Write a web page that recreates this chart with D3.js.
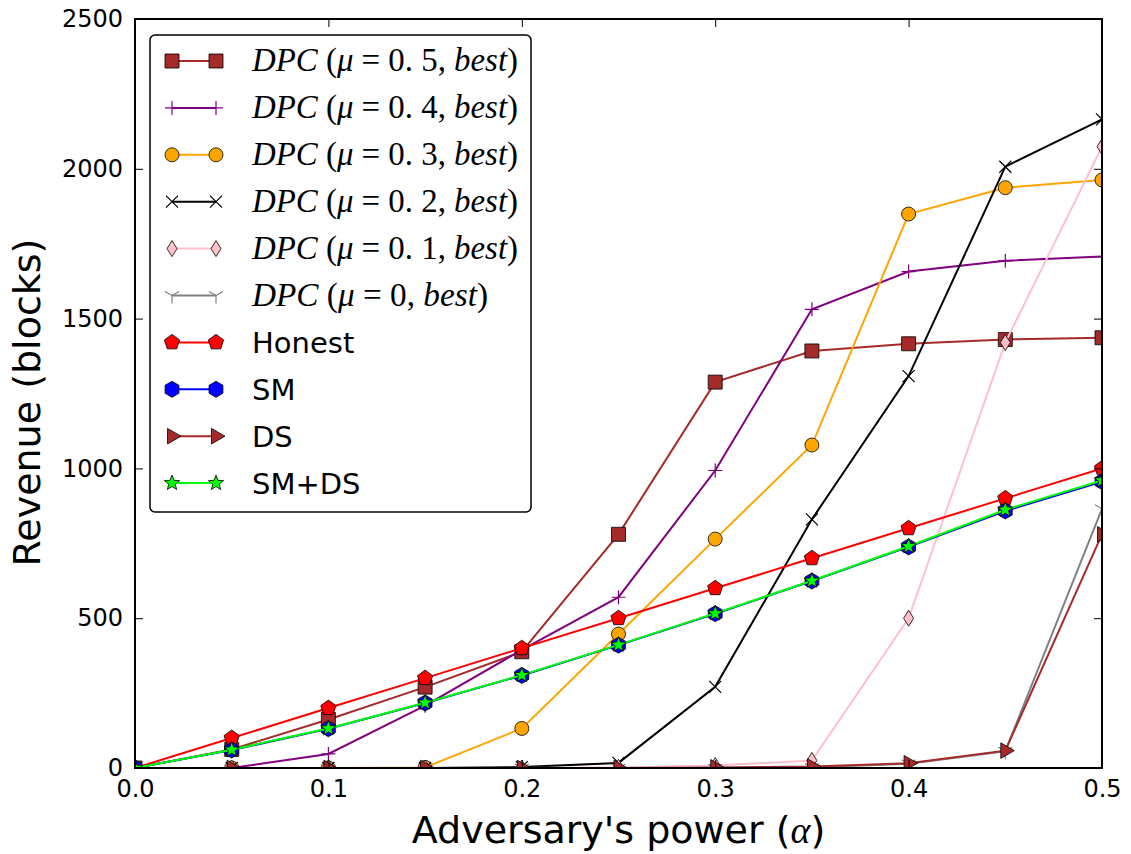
<!DOCTYPE html>
<html>
<head>
<meta charset="utf-8">
<script src="https://cdn.jsdelivr.net/npm/d3@7"></script>
<style>
  body { margin: 0; background: #fff; }
  svg { display: block; font-family: "DejaVu Sans", sans-serif; }
</style>
</head>
<body>
<svg id="chart"></svg>
<script>
// data
var alphas = [0, 0.05, 0.1, 0.15, 0.2, 0.25, 0.3, 0.35, 0.4, 0.45, 0.5];
var dpc05 = [0, 62, 162, 270, 388, 780, 1288, 1392, 1416, 1430, 1436];
var dpc04 = [0, 0, 47, 208, 394, 570, 993, 1531, 1657, 1693, 1707];
var dpc03 = [0, 0, 0, 2, 132, 447, 764, 1078, 1849, 1937, 1963];
var dpc02 = [0, 0, 0, 0, 3, 17, 271, 830, 1308, 2007, 2165];
var dpc01 = [0, 0, 0, 0, 0, 2, 8, 25, 500, 1420, 2074];
var dpc00 = [0, 0, 0, 0, 0, 0, 0, 2, 14, 56, 865];
var honest = [0, 100, 200, 300, 400, 500, 600, 700, 800, 900, 1000];
var sm = [0, 60, 131, 217, 309, 410, 515, 624, 738, 858, 956];
var ds = [0, 0, 0, 0, 0, 0, 2, 5, 16, 58, 780];
var smds = [0, 61, 132, 218, 310, 411, 516, 625, 740, 862, 960];

var xTicks = [0, 0.1, 0.2, 0.3, 0.4, 0.5];
var yTicks = [0, 500, 1000, 1500, 2000, 2500];

var muLabels = ["0.5", "0.4", "0.3", "0.2", "0.1", "0"];

var series = [
  {name: "dpc", mu: muLabels[0], values: dpc05, color: "#a52a2a", marker: "square"},
  {name: "dpc", mu: muLabels[1], values: dpc04, color: "#800080", marker: "plus"},
  {name: "dpc", mu: muLabels[2], values: dpc03, color: "#ffa500", marker: "circle"},
  {name: "dpc", mu: muLabels[3], values: dpc02, color: "#000000", marker: "x"},
  {name: "dpc", mu: muLabels[4], values: dpc01, color: "#ffc0cb", marker: "thindiamond"},
  {name: "dpc", mu: muLabels[5], values: dpc00, color: "#808080", marker: "tridown"},
  {name: "Honest", values: honest, color: "#ff0000", marker: "pentagon"},
  {name: "SM", values: sm, color: "#0000ff", marker: "hexagon"},
  {name: "DS", values: ds, color: "#a52a2a", marker: "triright"},
  {name: "SM+DS", values: smds, color: "#00ff00", marker: "star"}
];

var svgWidth = 1131, svgHeight = 854;
var plotLeft = 135, plotRight = 1102, plotTop = 19, plotBottom = 768;

var svg = d3.select("#chart").attr("width", svgWidth).attr("height", svgHeight);

var xScale = d3.scaleLinear().domain([0, 0.5]).range([plotLeft, plotRight]);
var yScale = d3.scaleLinear().domain([0, 2500]).range([plotBottom, plotTop]);

// marker shapes (relative to 0,0)
function poly(n, r, rot) {
  var pts = [];
  for (var i = 0; i < n; i++) {
    var a = rot + i * 2 * Math.PI / n;
    pts.push([r * Math.cos(a), r * Math.sin(a)]);
  }
  return "M" + pts.map(function (p) { return p[0].toFixed(2) + "," + p[1].toFixed(2); }).join("L") + "Z";
}
function starPath(ro, ri) {
  var pts = [];
  for (var i = 0; i < 10; i++) {
    var r = i % 2 === 0 ? ro : ri;
    var a = -Math.PI / 2 + i * Math.PI / 5;
    pts.push([r * Math.cos(a), r * Math.sin(a)]);
  }
  return "M" + pts.map(function (p) { return p[0].toFixed(2) + "," + p[1].toFixed(2); }).join("L") + "Z";
}
function markerPath(type) {
  switch (type) {
    case "square": return "M-7,-7H7V7H-7Z";
    case "plus": return "M-7,0H7M0,-7V7";
    case "circle": return "M7,0A7,7 0 1,1 -7,0A7,7 0 1,1 7,0Z";
    case "x": return "M-6,-6L6,6M-6,6L6,-6";
    case "thindiamond": return "M0,-8L5,0L0,8L-5,0Z";
    case "tridown": return "M0,0V8M0,0L-7,-4M0,0L7,-4";
    case "pentagon": return poly(5, 8, -Math.PI / 2);
    case "hexagon": return poly(6, 8, -Math.PI / 2);
    case "triright": return poly(3, 9, 0);
    case "star": return starPath(8, 3.4);
  }
}
function isLineMarker(type) {
  return type === "plus" || type === "x" || type === "tridown";
}

svg.append("defs").append("clipPath").attr("id", "plotclip")
  .append("rect").attr("x", plotLeft).attr("y", plotTop)
  .attr("width", plotRight - plotLeft).attr("height", plotBottom - plotTop);

var plot = svg.append("g").attr("clip-path", "url(#plotclip)");

var line = d3.line()
  .x(function (d, i) { return xScale(alphas[i]); })
  .y(function (d) { return yScale(d); });

series.forEach(function (s) {
  var g = plot.append("g");
  g.append("path")
    .attr("d", line(s.values))
    .attr("fill", "none")
    .attr("stroke", s.color)
    .attr("stroke-width", 2);
  g.selectAll("path.mk")
    .data(s.values)
    .enter()
    .append("path")
    .attr("class", "mk")
    .attr("d", markerPath(s.marker))
    .attr("transform", function (d, i) { return "translate(" + xScale(alphas[i]) + "," + yScale(d) + ")"; })
    .attr("fill", isLineMarker(s.marker) ? "none" : s.color)
    .attr("stroke", isLineMarker(s.marker) ? s.color : "#000")
    .attr("stroke-width", isLineMarker(s.marker) ? 1.2 : 0.8);
});

// axes: ticks pointing inward on all four sides
var tickLen = 8;
var xb = svg.append("g").attr("transform", "translate(0," + plotBottom + ")")
  .call(d3.axisBottom(xScale).tickValues(xTicks).tickSize(-tickLen).tickPadding(10).tickFormat(d3.format(".1f")));
var xt = svg.append("g").attr("transform", "translate(0," + plotTop + ")")
  .call(d3.axisTop(xScale).tickValues(xTicks).tickSize(-tickLen).tickFormat(""));
var yl = svg.append("g").attr("transform", "translate(" + plotLeft + ",0)")
  .call(d3.axisLeft(yScale).tickValues(yTicks).tickSize(-tickLen).tickPadding(12).tickFormat(d3.format("d")));
var yr = svg.append("g").attr("transform", "translate(" + plotRight + ",0)")
  .call(d3.axisRight(yScale).tickValues(yTicks).tickSize(-tickLen).tickFormat(""));

[xb, xt, yl, yr].forEach(function (a) {
  a.select(".domain").remove();
  a.selectAll(".tick line").attr("stroke", "#000").attr("stroke-width", 1);
  a.selectAll(".tick text").attr("font-family", "DejaVu Sans").attr("font-size", 24).attr("fill", "#000");
});
xb.selectAll(".tick text").attr("dy", "0.8em");

svg.append("rect")
  .attr("x", plotLeft).attr("y", plotTop)
  .attr("width", plotRight - plotLeft).attr("height", plotBottom - plotTop)
  .attr("fill", "none").attr("stroke", "#000").attr("stroke-width", 2);

// axis labels
var xl = svg.append("text")
  .attr("x", (plotLeft + plotRight) / 2).attr("y", 843)
  .attr("text-anchor", "middle").attr("font-size", 38);
xl.append("tspan").text("Adversary's power (");
xl.append("tspan").attr("font-family", "Liberation Serif").attr("font-style", "italic").text("α");
xl.append("tspan").text(")");

svg.append("text")
  .attr("transform", "translate(40," + ((plotTop + plotBottom) / 2 + 9) + ") rotate(-90)")
  .attr("text-anchor", "middle").attr("font-size", 38)
  .text("Revenue (blocks)");

// legend
var legend = svg.append("g");
legend.append("rect")
  .attr("x", 150).attr("y", 35).attr("width", 381).attr("height", 477)
  .attr("rx", 5).attr("fill", "#fff").attr("stroke", "#000").attr("stroke-width", 1.5);

var rowY0 = 61, rowStep = 46.9;
var lx1 = 172, lx2 = 216, tx = 252;

series.forEach(function (s, i) {
  var yy = rowY0 + i * rowStep;
  var row = legend.append("g");
  row.append("line")
    .attr("x1", lx1).attr("x2", lx2).attr("y1", yy).attr("y2", yy)
    .attr("stroke", s.color).attr("stroke-width", 2);
  [lx1, lx2].forEach(function (mx) {
    row.append("path")
      .attr("d", markerPath(s.marker))
      .attr("transform", "translate(" + mx + "," + yy + ")")
      .attr("fill", isLineMarker(s.marker) ? "none" : s.color)
      .attr("stroke", isLineMarker(s.marker) ? s.color : "#000")
      .attr("stroke-width", isLineMarker(s.marker) ? 1.2 : 0.8);
  });
  if (s.name === "dpc") {
    var t = row.append("text")
      .attr("x", tx).attr("y", yy + 10)
      .attr("font-family", "Liberation Serif").attr("font-size", 33)
      .attr("textLength", s.mu === "0" ? 236 : 266)
      .attr("lengthAdjust", "spacingAndGlyphs");
    t.append("tspan").attr("font-style", "italic").text("DPC");
    t.append("tspan").text(" (");
    t.append("tspan").attr("font-style", "italic").text("μ");
    t.append("tspan").text(" = " + s.mu.replace(".", ". ") + ", ");
    t.append("tspan").attr("font-style", "italic").text("best");
    t.append("tspan").text(")");
  } else {
    row.append("text")
      .attr("x", tx).attr("y", yy + 11)
      .attr("font-size", 29)
      .text(s.name);
  }
});
</script>
</body>
</html>
